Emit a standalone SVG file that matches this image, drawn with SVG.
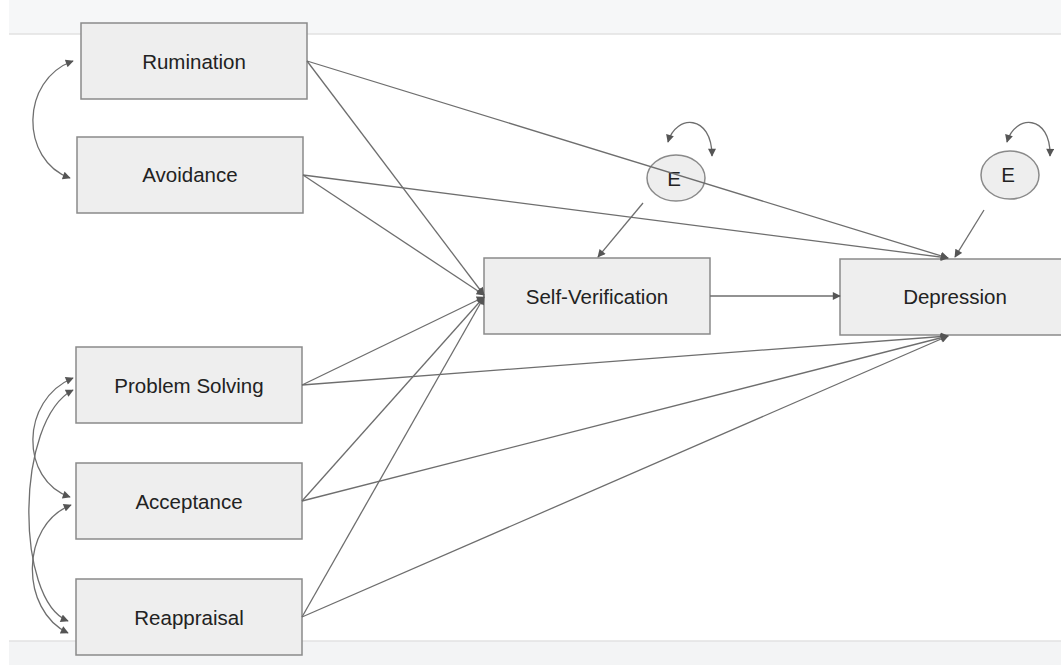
<svg xmlns="http://www.w3.org/2000/svg" width="1061" height="665" viewBox="0 0 1061 665">
<style>
.box{fill:#eeeeee;stroke:#8a8a8a;stroke-width:1.5}
.lbl{font-family:"Liberation Sans",Arial,sans-serif;font-size:20.5px;fill:#222;text-anchor:middle}
.c{fill:none;stroke:#6e6e6e;stroke-width:1.3}
.a{marker-end:url(#ah)}
.d{marker-start:url(#ah);marker-end:url(#ah)}
</style>
<defs>
<marker id="ah" viewBox="0 0 10 10" refX="9" refY="5" markerWidth="10" markerHeight="8" markerUnits="userSpaceOnUse" orient="auto-start-reverse">
<path d="M0,0 L10,5 L0,10 z" fill="#555"/>
</marker>
</defs>
<rect x="0" y="0" width="1061" height="665" fill="#ffffff"/>
<rect x="9" y="0" width="1052" height="34" fill="#f6f7f8"/>
<line x1="9" y1="34" x2="1061" y2="34" stroke="#e2e2e2" stroke-width="1.5"/>
<rect x="9" y="641" width="1052" height="24" fill="#f3f4f5"/>
<line x1="9" y1="641" x2="1061" y2="641" stroke="#e2e2e2" stroke-width="1.5"/>

<g id="rumination"><rect class="box" x="81" y="23" width="226" height="76"/><text class="lbl" x="194" y="69">Rumination</text></g>
<g id="avoidance"><rect class="box" x="77" y="137" width="226" height="76"/><text class="lbl" x="190" y="182">Avoidance</text></g>
<g id="problem-solving"><rect class="box" x="76" y="347" width="226" height="76"/><text class="lbl" x="189" y="393">Problem Solving</text></g>
<g id="acceptance"><rect class="box" x="76" y="463" width="226" height="76"/><text class="lbl" x="189" y="509">Acceptance</text></g>
<g id="reappraisal"><rect class="box" x="76" y="579" width="226" height="76"/><text class="lbl" x="189" y="625">Reappraisal</text></g>
<g id="self-verification"><rect class="box" x="484" y="258" width="226" height="76"/><text class="lbl" x="597" y="304">Self-Verification</text></g>
<g id="depression"><rect class="box" x="840" y="259" width="226" height="76"/><text class="lbl" x="955" y="304">Depression</text></g>
<g id="e1"><ellipse class="box" cx="676" cy="178" rx="29" ry="23"/><text class="lbl" x="674" y="186">E</text></g>
<g id="e2"><ellipse class="box" cx="1010" cy="175" rx="29" ry="24"/><text class="lbl" x="1008" y="182">E</text></g>

<g id="connectors">
<path class="c a" d="M307,61 L484,295"/>
<path class="c a" d="M307,61 L948,258"/>
<path class="c a" d="M303,175 L484,295"/>
<path class="c a" d="M303,175 L948,258"/>
<path class="c a" d="M302,385 L484,297"/>
<path class="c a" d="M302,385 L948,336"/>
<path class="c a" d="M302,501 L484,297"/>
<path class="c a" d="M302,501 L948,336"/>
<path class="c a" d="M302,617 L484,297"/>
<path class="c a" d="M302,617 L948,336"/>
<path class="c a" d="M710,296 L840,296"/>
<path class="c a" d="M643,203 L598,257"/>
<path class="c a" d="M984,210 L955,257"/>
<path class="c d" d="M668,142 C676,114 712,114 712,156"/>
<path class="c d" d="M1007,142 C1015,114 1051,114 1050,156"/>
<path class="c d" d="M73,61 C20,80 20,160 70,178"/>
<path class="c d" d="M73,378 C20,400 20,480 70,497"/>
<path class="c d" d="M73,390 C15,420 15,600 68,621"/>
<path class="c d" d="M71,505 C20,525 20,610 68,633"/>
</g>
</svg>
